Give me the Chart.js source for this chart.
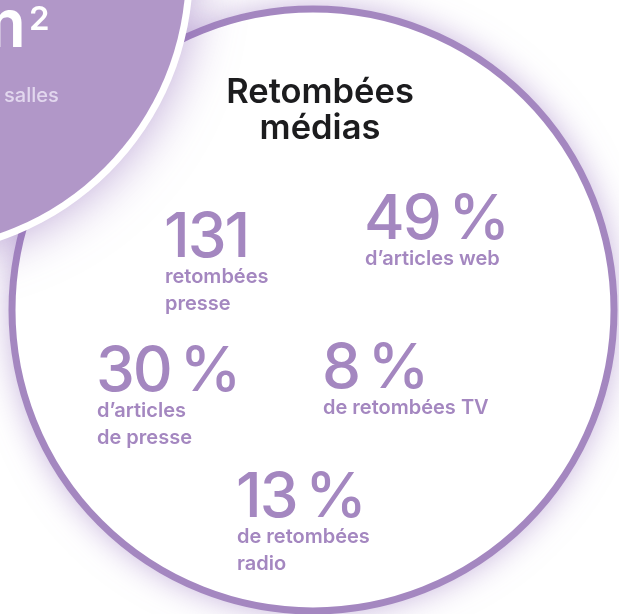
<!DOCTYPE html>
<html>
<head>
<meta charset="utf-8">
<script src="https://cdn.jsdelivr.net/npm/chart.js@4/dist/chart.umd.min.js"></script>
<style>
  html, body { margin: 0; padding: 0; background: #ffffff; overflow: hidden; }
  #wrap { width: 619px; height: 614px; position: relative; }
</style>
</head>
<body>
<div id="wrap"><canvas id="c" width="619" height="614"></canvas></div>
<script>
// ---- data (text content of the infographic) ----
const titleLines = ['Retombées', 'médias'];
const statValues = ['131', '49\u2009%', '30\u2009%', '8\u2009%', '13\u2009%'];
const statCaptions = [
  ['retombées', 'presse'],
  ['d’articles web'],
  ['d’articles', 'de presse'],
  ['de retombées TV'],
  ['de retombées', 'radio']
];
const cornerValue = ['m', '2'];
const cornerCaption = ['salles'];

// ---- layout (kept separate from the data) ----
const statAnchors = [
  { x: 164, y: 257 },
  { x: 364, y: 239 },
  { x: 96,  y: 391 },
  { x: 322, y: 388 },
  { x: 236, y: 517 }
];
const captionFirstOffset = 26;
const captionLineHeight = 27;
const titleAnchor = { x: 320, y: 103, lh: 36 };
const bigCircle = { cx: 313, cy: 310, r: 301 };
const cornerCircle = { cx: -92, cy: -29, r: 278, border: 7 };

const PURPLE = '#a487c0';
const FONT = 'Inter, "Open Sans", sans-serif';

const infographic = {
  id: 'infographic',
  beforeDatasetsDraw(chart) {
    const { ctx, scales: { x, y } } = chart;
    const px = v => x.getPixelForValue(v);
    const py = v => y.getPixelForValue(v);
    const sr = v => px(v) - px(0);
    ctx.save();
    ctx.fillStyle = '#ffffff';
    ctx.fillRect(0, 0, chart.width, chart.height);

    // big circle: white disc with soft purple glow, purple ring
    ctx.shadowColor = 'rgba(135, 95, 180, 0.55)';
    ctx.shadowBlur = 34;
    ctx.beginPath();
    ctx.arc(px(bigCircle.cx), py(bigCircle.cy), sr(bigCircle.r), 0, Math.PI * 2);
    ctx.fillStyle = '#ffffff';
    ctx.fill();
    ctx.shadowColor = 'transparent';
    ctx.shadowBlur = 0;
    ctx.lineWidth = 7;
    ctx.strokeStyle = '#a487c0';
    ctx.stroke();

    // corner circle: white border with glow, lilac fill
    ctx.shadowColor = 'rgba(135, 95, 180, 0.55)';
    ctx.shadowBlur = 50;
    ctx.beginPath();
    ctx.arc(px(cornerCircle.cx), py(cornerCircle.cy), sr(cornerCircle.r + cornerCircle.border), 0, Math.PI * 2);
    ctx.fillStyle = '#ffffff';
    ctx.fill();
    ctx.shadowColor = 'transparent';
    ctx.shadowBlur = 0;
    ctx.beginPath();
    ctx.arc(px(cornerCircle.cx), py(cornerCircle.cy), sr(cornerCircle.r), 0, Math.PI * 2);
    ctx.fillStyle = '#b197c8';
    ctx.fill();

    // corner texts
    ctx.fillStyle = '#ffffff';
    ctx.textBaseline = 'alphabetic';
    ctx.textAlign = 'right';
    ctx.font = '600 66px ' + FONT;
    ctx.fillText(cornerValue[0], px(26), py(47));
    ctx.textAlign = 'left';
    ctx.font = '600 33px ' + FONT;
    ctx.fillText(cornerValue[1], px(29), py(30));
    ctx.fillStyle = '#e2d7ee';
    ctx.font = '500 20px ' + FONT;
    ctx.fillText(cornerCaption[0], px(4), py(102));

    // title
    ctx.fillStyle = '#1c1c1e';
    ctx.textAlign = 'center';
    ctx.font = '600 34.5px ' + FONT;
    titleLines.forEach((t, i) => ctx.fillText(t, px(titleAnchor.x), py(titleAnchor.y + i * titleAnchor.lh)));
    ctx.restore();
  },
  afterDatasetsDraw(chart) {
    const { ctx } = chart;
    const meta = chart.getDatasetMeta(0);
    ctx.save();
    ctx.fillStyle = PURPLE;
    ctx.textAlign = 'left';
    ctx.textBaseline = 'alphabetic';
    meta.data.forEach((pt, i) => {
      ctx.font = '500 62px ' + FONT;
      ctx.letterSpacing = '-2px';
      ctx.fillText(statValues[i], pt.x, pt.y);
      ctx.letterSpacing = '0px';
      ctx.font = '600 20px ' + FONT;
      statCaptions[i].forEach((line, j) => {
        ctx.fillText(line, pt.x + 1, pt.y + captionFirstOffset + j * captionLineHeight);
      });
    });
    ctx.restore();
  }
};

new Chart(document.getElementById('c'), {
  type: 'scatter',
  data: {
    datasets: [{
      label: 'Retombées médias',
      data: statAnchors.map((a, i) => ({ x: a.x, y: a.y, v: statValues[i] })),
      pointRadius: 0,
      pointHoverRadius: 0
    }]
  },
  options: {
    responsive: false,
    animation: false,
    devicePixelRatio: 1,
    layout: { padding: 0 },
    events: [],
    plugins: { legend: { display: false }, tooltip: { enabled: false }, title: { display: false } },
    scales: {
      x: { type: 'linear', min: 0, max: 619, display: false },
      y: { type: 'linear', min: 0, max: 614, reverse: true, display: false }
    }
  },
  plugins: [infographic]
});
</script>
</body>
</html>
